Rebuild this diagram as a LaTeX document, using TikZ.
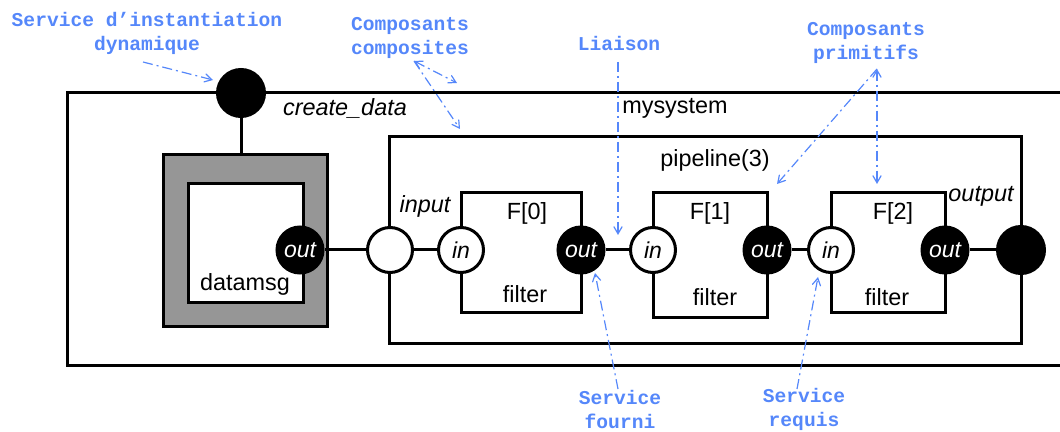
\documentclass[tikz,border=0pt]{standalone}
\usepackage{fontspec}
\setmainfont{Liberation Sans}
\newfontfamily\notefont{Liberation Mono}
\usetikzlibrary{arrows}
\definecolor{note_blue}{RGB}{85, 135, 250}
\definecolor{box_grey}{RGB}{150, 150, 150}
\tikzstyle{inp}=[circle,fill=white,draw=black,line width=1.5pt,inner sep=0pt,
  minimum size=22.5pt,font=\fontsize{11.5}{13}\selectfont\itshape]
\tikzstyle{outp}=[circle,fill=black,draw=black,line width=1.5pt,inner sep=0pt,
  minimum size=23pt,text=white,font=\fontsize{11.5}{13}\selectfont\itshape]
\tikzstyle{fullp}=[circle,fill=black,draw=black,line width=1.5pt,inner sep=0pt,
  minimum size=23.5pt]
\tikzstyle{lbl}=[inner sep=0pt,font=\fontsize{11.7}{14}\selectfont]
\tikzstyle{ilbl}=[inner sep=0pt,font=\fontsize{11.7}{14}\selectfont\itshape]
\tikzstyle{note}=[inner sep=0pt,text=note_blue,align=center,
  font=\notefont\bfseries\fontsize{9.8}{12}\selectfont]
\tikzstyle{notearrow}=[draw=note_blue,line width=0.6pt,>=angle 60,
  dash pattern=on 5pt off 2pt on 1pt off 2pt]
\tikzstyle{wire}=[line width=1.5pt]
\tikzstyle{none}=[]

\begin{document}
\begin{tikzpicture}[x=0.5pt,y=-0.5pt]
            \useasboundingbox (0,0) rectangle (1060,432);
            % boxes
            \draw [style=wire] (1075,93) -- (67,93) -- (67,366) -- (1075,366);
            \draw [style=wire] (389,137) rectangle (1021,344);
            \node [style=wire,draw=black,fill=box_grey,minimum width=82pt,minimum height=86pt,inner sep=0pt] (3) at (245,241) {};
            \draw [style=wire,fill=white] (188,184) rectangle (303,303);
            \draw [style=wire] (461,193) rectangle (581,313);
            \draw [style=wire] (653,193) rectangle (767,318);
            \draw [style=wire] (831,193) rectangle (945,313);
            % ports
            \node [style=fullp] (1) at (241,93) {};
            \node [style=outp] (4) at (300,250) {out};
            \node [style=inp] (5) at (390,250) {};
            \node [style=inp] (6) at (461,250) {in};
            \node [style=outp] (7) at (581,250) {out};
            \node [style=inp] (8) at (653,250) {in};
            \node [style=outp] (9) at (767,250) {out};
            \node [style=inp] (10) at (831,250) {in};
            \node [style=outp] (11) at (945,250) {out};
            \node [style=fullp] (12) at (1021,250) {};
            \draw [style=wire] (1) to (1 |- 3.north);
            \draw [style=wire] (4) to (5);
            \draw [style=wire] (5) to (6);
            \draw [style=wire] (7) to (8);
            \draw [style=wire] (9) to (10);
            \draw [style=wire] (11) to (12);
            % labels
            \node [style=ilbl] (20) at (345,108) {create\_data};
            \node [style=lbl] (21) at (675,108) {mysystem};
            \node [style=lbl] (22) at (715,160) {pipeline(3)};
            \node [style=ilbl] (23) at (425,206) {input};
            \node [style=ilbl] (24) at (981,196) {output};
            \node [style=lbl] (25) at (245,284) {datamsg};
            \node [style=lbl] (26) at (527,213) {F[0]};
            \node [style=lbl] (27) at (710,213) {F[1]};
            \node [style=lbl] (28) at (893,213) {F[2]};
            \node [style=lbl] (29) at (525,294) {filter};
            \node [style=lbl] (30) at (715,297) {filter};
            \node [style=lbl] (31) at (887,297) {filter};
            % notes
            \node [style=note] (40) at (147,33) {Service d’instantiation\\dynamique};
            \node [style=note] (41) at (410,38) {Composants\\composites};
            \node [style=note] (42) at (619,43) {Liaison};
            \node [style=note] (43) at (866,43) {Composants\\primitifs};
            \node [style=note] (44) at (620,409) {Service\\fourni};
            \node [style=note] (45) at (804,409) {Service\\requis};
            \coordinate (50) at (143,62);
            \coordinate (51) at (213,80);
            \coordinate (52) at (414,61);
            \coordinate (53) at (457,83);
            \coordinate (54) at (460,129);
            \coordinate (55) at (618,62);
            \coordinate (56) at (618,235);
            \coordinate (57) at (877,69);
            \coordinate (58) at (777,184);
            \coordinate (59) at (877,184);
            \coordinate (60) at (618,389);
            \coordinate (61) at (595,273);
            \coordinate (62) at (797,389);
            \coordinate (63) at (818,277);
            \draw [style=notearrow,->] (50) to (51);
            \draw [style=notearrow,<->] (52) to (53);
            \draw [style=notearrow,->] (52) to (54);
            \draw [style=notearrow,->] (55) to (56);
            \draw [style=notearrow,->] (57) to (58);
            \draw [style=notearrow,<->] (57) to (59);
            \draw [style=notearrow,->] (60) to (61);
            \draw [style=notearrow,->] (62) to (63);
    \end{tikzpicture}
\end{document}
